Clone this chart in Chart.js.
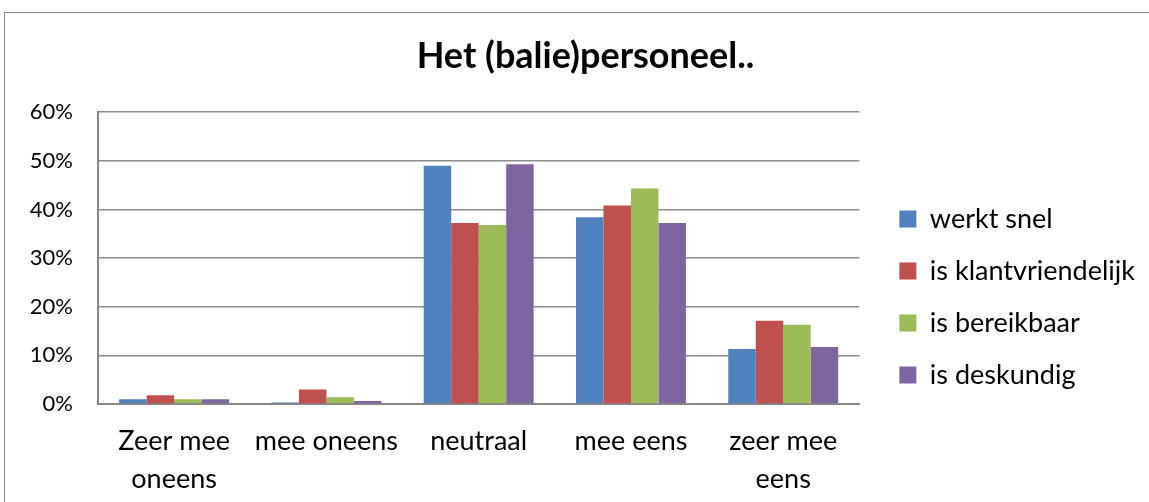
<!DOCTYPE html>
<html>
<head>
<meta charset="utf-8">
<script src="https://cdn.jsdelivr.net/npm/chart.js@4"></script>
<style>
  html, body { margin: 0; padding: 0; background: #fff; overflow: hidden; }
  #wrap { position: relative; width: 1149px; height: 502px; overflow: hidden; }
  #frame { position: absolute; left: 4px; top: 12px; width: 1200px; height: 600px; border: 1px solid #868686; }
  #chart { position: absolute; left: 0; top: 0; }
</style>
</head>
<body>
<div id="wrap">
  <div id="frame"></div>
  <canvas id="chart" width="1172" height="502"></canvas>
</div>
<script>
// answers per category, in percent
const categories = [["Zeer mee", "oneens"], "mee oneens", "neutraal", "mee eens", ["zeer mee", "eens"]];
const seriesNames = ["werkt snel", "is klantvriendelijk", "is bereikbaar", "is deskundig"];
const werktSnel = [1.0, 0.3, 49.0, 38.4, 11.3];
const klantvriendelijk = [1.8, 3.0, 37.2, 40.8, 17.1];
const bereikbaar = [1.0, 1.4, 36.8, 44.3, 16.3];
const deskundig = [1.0, 0.6, 49.3, 37.2, 11.7];
const yTicks = [0, 10, 20, 30, 40, 50, 60];

const colors = ["#4F81BD", "#C0504D", "#9BBB59", "#8064A2"];
const font = "Lato, Carlito, Calibri, sans-serif";

const datasets = [werktSnel, klantvriendelijk, bereikbaar, deskundig].map((values, i) => ({
  label: seriesNames[i],
  data: values,
  backgroundColor: colors[i],
  borderWidth: 0,
  barPercentage: 1,
  categoryPercentage: 0.722
}));

new Chart(document.getElementById("chart"), {
  type: "bar",
  data: { labels: categories, datasets },
  options: {
    responsive: false,
    animation: false,
    layout: { padding: { left: 26, right: 27, top: 0, bottom: 0 } },
    plugins: {
      title: {
        display: true,
        text: "Het (balie)personeel..",
        color: "#000",
        font: { family: font, size: 36, weight: "bold", lineHeight: 1.2 },
        padding: { top: 35, bottom: 34 }
      },
      legend: {
        position: "right",
        align: "center",
        fullSize: true,
        maxWidth: 320,
        // empty title only pushes the items down to where they sit in the original
        title: { display: true, text: " ", font: { size: 10, lineHeight: 1 }, padding: { top: 82, bottom: 0 } },
        labels: {
          color: "#000",
          boxWidth: 17,
          boxHeight: 17,
          padding: 25,
          font: { family: font, size: 27 }
        }
      },
      tooltip: { enabled: false }
    },
    scales: {
      x: {
        grid: { display: false },
        border: { display: true, color: "#868686", width: 2 },
        ticks: {
          color: "#000",
          maxRotation: 0,
          autoSkip: false,
          padding: 10,
          font: { family: font, size: 27, lineHeight: 1.41 }
        },
        afterFit: scale => { scale.height = 98; }
      },
      y: {
        min: 0,
        max: 60,
        afterBuildTicks: scale => { scale.ticks = yTicks.map(v => ({ value: v })); },
        grid: { color: "#8c8c8c", lineWidth: 1.5, drawTicks: false },
        border: { display: true, color: "#868686", width: 2 },
        ticks: {
          color: "#000",
          padding: 25,
          font: { family: font, size: 22 },
          callback: value => value + "%"
        },
        afterFit: scale => { scale.width = 72; }
      },
      gap: {
        position: "right",
        display: true,
        grid: { display: false },
        border: { display: false },
        ticks: { display: false },
        afterFit: scale => { scale.width = 15; }
      }
    }
  }
});
</script>
</body>
</html>
